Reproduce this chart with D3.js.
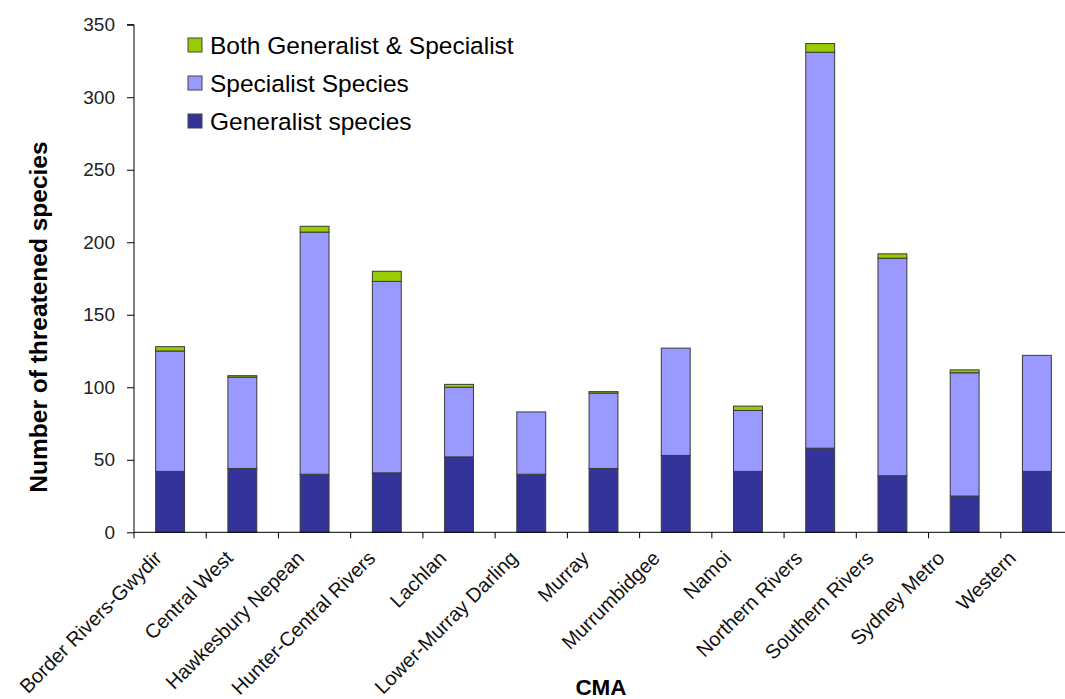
<!DOCTYPE html>
<html>
<head>
<meta charset="utf-8">
<script src="https://cdn.jsdelivr.net/npm/d3@7"></script>
<style>
  html, body { margin: 0; padding: 0; background: #fff; }
  svg { display: block; overflow: hidden; }
  text { font-family: "Liberation Sans", Arial, sans-serif; }
</style>
</head>
<body>
<div id="chart"></div>
<script>
const categories = ["Border Rivers-Gwydir", "Central West", "Hawkesbury Nepean", "Hunter-Central Rivers",
  "Lachlan", "Lower-Murray Darling", "Murray", "Murrumbidgee", "Namoi", "Northern Rivers",
  "Southern Rivers", "Sydney Metro", "Western"];
const generalist = [42, 44, 40, 41, 52, 40, 44, 53, 42, 58, 39, 25, 42];
const specialist = [83, 63, 167, 132, 48, 43, 52, 74, 42, 273, 150, 85, 80];
const both       = [3, 1, 4, 7, 2, 0, 1, 0, 3, 6, 3, 2, 0];
const seriesNames = ["Generalist species", "Specialist Species", "Both Generalist & Specialist"];
const seriesKeys = ["generalist", "specialist", "both"];
const seriesColors = ["#333399", "#9999FF", "#99CC00"];
const yTicks = [0, 50, 100, 150, 200, 250, 300, 350];
const yTitle = "Number of threatened species";
const xTitle = "CMA";

const W = 1065, H = 699;
const plot = { left: 134, right: 1073, top: 24.7, bottom: 532.3 };

const rows = categories.map((c, i) => ({ cat: c, generalist: generalist[i], specialist: specialist[i], both: both[i] }));
const stack = d3.stack().keys(seriesKeys)(rows);

const svg = d3.select("#chart").append("svg").attr("width", W).attr("height", H);

const x = d3.scaleBand().domain(categories).range([plot.left, plot.right]).paddingInner(0.6).paddingOuter(0.3);
const y = d3.scaleLinear().domain([0, 350]).range([plot.bottom, plot.top]);
// label anchor scale (labels sit slightly left of bar centres, drifting a bit)
const xl = d3.scalePoint().domain(categories).range([153, 1007]);

// bars
stack.forEach((layer, li) => {
  svg.append("g").selectAll("rect").data(layer).enter().append("rect")
    .filter(d => d[1] - d[0] > 0)
    .attr("x", d => x(d.data.cat))
    .attr("y", d => y(d[1]))
    .attr("width", x.bandwidth())
    .attr("height", d => y(d[0]) - y(d[1]))
    .attr("fill", seriesColors[li])
    .attr("stroke", "#3a3a3a")
    .attr("stroke-width", 1);
});

// y axis
const yAxis = d3.axisLeft(y).tickValues(yTicks).tickSize(7).tickPadding(12);
const gy = svg.append("g").attr("transform", `translate(${plot.left},0)`).call(yAxis);
gy.select(".domain").attr("stroke", "#000").attr("d", `M-7,${plot.top}H0V${plot.bottom}`);
gy.selectAll(".tick line").attr("stroke", "#000");
gy.selectAll(".tick text").attr("font-size", 19).attr("fill", "#222")
  .attr("font-family", "'Liberation Sans', Arial, sans-serif");

// x axis line + boundary ticks
const step = x.step();
const boundaries = d3.range(categories.length + 1).map(i => plot.left + i * step);
svg.append("line").attr("x1", plot.left).attr("x2", plot.right).attr("y1", plot.bottom).attr("y2", plot.bottom)
  .attr("stroke", "#000");
svg.append("g").selectAll("line").data(boundaries).enter().append("line")
  .attr("x1", d => d).attr("x2", d => d).attr("y1", plot.bottom).attr("y2", plot.bottom + 6)
  .attr("stroke", "#000");

// x labels
svg.append("g").selectAll("text").data(categories).enter().append("text")
  .attr("transform", d => `translate(${xl(d)},${plot.bottom + 17}) rotate(-45)`)
  .attr("text-anchor", "end")
  .attr("dy", "0.71em")
  .attr("font-size", 20)
  .attr("fill", "#111")
  .text(d => d);

// axis titles
svg.append("text")
  .attr("transform", `translate(47,317) rotate(-90)`)
  .attr("text-anchor", "middle")
  .attr("font-size", 24.5).attr("font-weight", "bold").attr("fill", "#000")
  .text(yTitle);
svg.append("text")
  .attr("x", 601).attr("y", 695)
  .attr("text-anchor", "middle")
  .attr("font-size", 22.5).attr("font-weight", "bold").attr("fill", "#000")
  .text(xTitle);

// legend (top to bottom: both, specialist, generalist)
const legendOrder = [2, 1, 0];
const lg = svg.append("g");
legendOrder.forEach((si, r) => {
  const cy = 45 + r * 38;
  lg.append("rect").attr("x", 188).attr("y", cy - 7).attr("width", 14).attr("height", 14)
    .attr("fill", seriesColors[si]).attr("stroke", "#444").attr("stroke-width", 1);
  lg.append("text").attr("x", 210).attr("y", cy).attr("dy", "0.36em")
    .attr("font-size", 24.5).attr("fill", "#000")
    .text(seriesNames[si]);
});
</script>
</body>
</html>
